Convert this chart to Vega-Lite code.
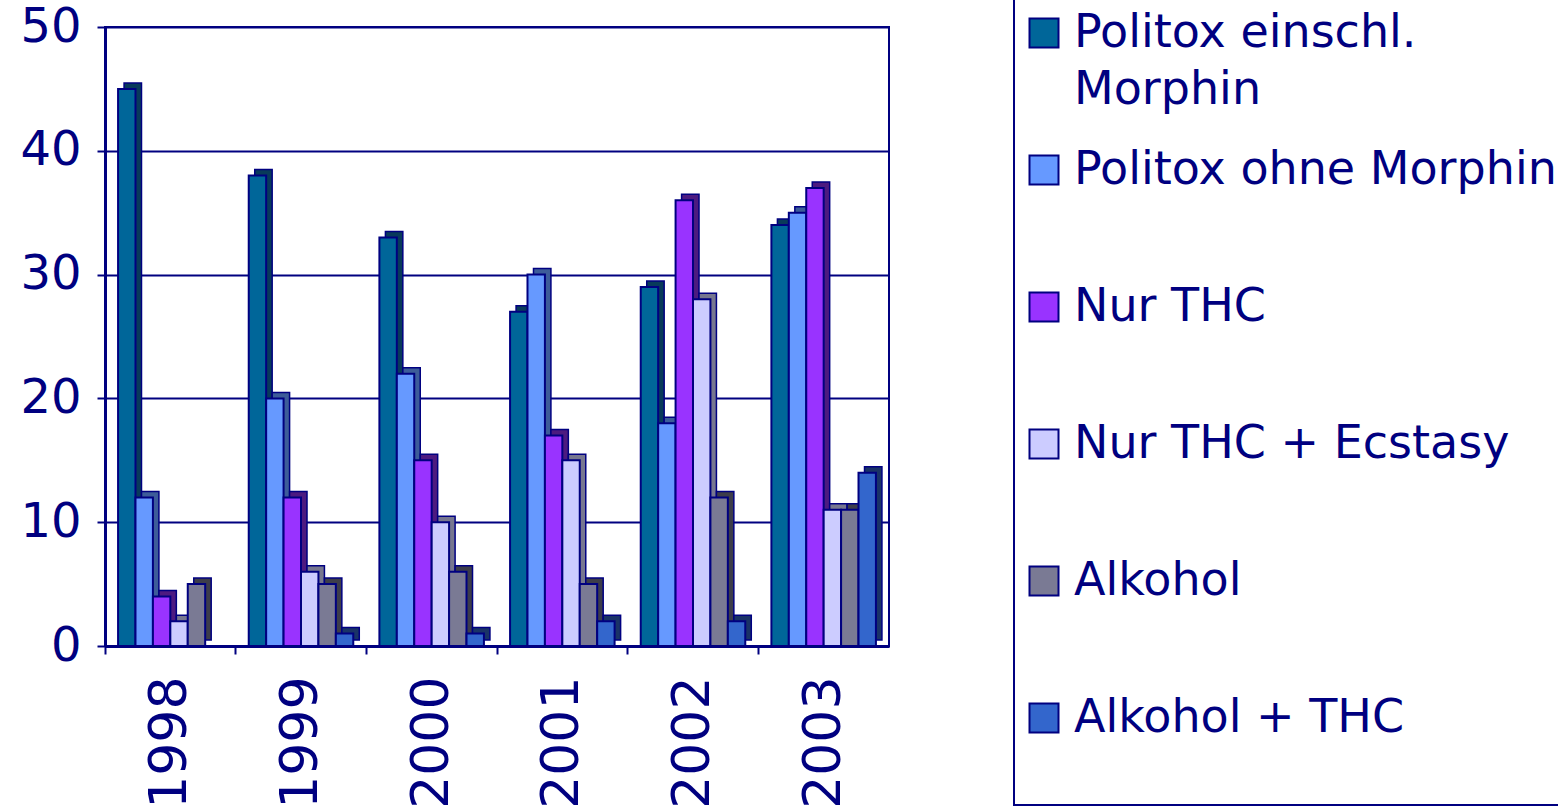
{
  "$schema": "https://vega.github.io/schema/vega-lite/v6.json",
  "width": 784,
  "height": 619,
  "autosize": {"type": "none"},
  "padding": {"left": 105, "top": 27, "right": 669, "bottom": 165},
  "background": "white",
  "config": {"view": {"stroke": "#000080", "strokeWidth": 2}, "font": "DejaVu Sans", "legend": {"strokeWidth": 2}},
  "data": {"values": [
    {"year": "1998", "series": "Politox einschl. Morphin", "value": 45},
    {"year": "1998", "series": "Politox ohne Morphin", "value": 12},
    {"year": "1998", "series": "Nur THC", "value": 4},
    {"year": "1998", "series": "Nur THC + Ecstasy", "value": 2},
    {"year": "1998", "series": "Alkohol", "value": 5},
    {"year": "1999", "series": "Politox einschl. Morphin", "value": 38},
    {"year": "1999", "series": "Politox ohne Morphin", "value": 20},
    {"year": "1999", "series": "Nur THC", "value": 12},
    {"year": "1999", "series": "Nur THC + Ecstasy", "value": 6},
    {"year": "1999", "series": "Alkohol", "value": 5},
    {"year": "1999", "series": "Alkohol + THC", "value": 1},
    {"year": "2000", "series": "Politox einschl. Morphin", "value": 33},
    {"year": "2000", "series": "Politox ohne Morphin", "value": 22},
    {"year": "2000", "series": "Nur THC", "value": 15},
    {"year": "2000", "series": "Nur THC + Ecstasy", "value": 10},
    {"year": "2000", "series": "Alkohol", "value": 6},
    {"year": "2000", "series": "Alkohol + THC", "value": 1},
    {"year": "2001", "series": "Politox einschl. Morphin", "value": 27},
    {"year": "2001", "series": "Politox ohne Morphin", "value": 30},
    {"year": "2001", "series": "Nur THC", "value": 17},
    {"year": "2001", "series": "Nur THC + Ecstasy", "value": 15},
    {"year": "2001", "series": "Alkohol", "value": 5},
    {"year": "2001", "series": "Alkohol + THC", "value": 2},
    {"year": "2002", "series": "Politox einschl. Morphin", "value": 29},
    {"year": "2002", "series": "Politox ohne Morphin", "value": 18},
    {"year": "2002", "series": "Nur THC", "value": 36},
    {"year": "2002", "series": "Nur THC + Ecstasy", "value": 28},
    {"year": "2002", "series": "Alkohol", "value": 12},
    {"year": "2002", "series": "Alkohol + THC", "value": 2},
    {"year": "2003", "series": "Politox einschl. Morphin", "value": 34},
    {"year": "2003", "series": "Politox ohne Morphin", "value": 35},
    {"year": "2003", "series": "Nur THC", "value": 37},
    {"year": "2003", "series": "Nur THC + Ecstasy", "value": 11},
    {"year": "2003", "series": "Alkohol", "value": 11},
    {"year": "2003", "series": "Alkohol + THC", "value": 14}
  ]},
  "encoding": {
    "x": {
      "field": "year", "type": "nominal",
      "scale": {"paddingInner": 0, "paddingOuter": 0},
      "axis": {
        "title": null, "bandPosition": 0, "labelAngle": -90,
        "labelFont": "DejaVu Sans", "labelFontSize": 52, "labelColor": "#000080", "labelPadding": 22,
        "domainColor": "#000080", "domainWidth": 3, "tickColor": "#000080", "tickWidth": 2, "tickSize": 8,
        "grid": false
      }
    },
    "y": {
      "field": "value", "type": "quantitative",
      "scale": {"domain": [0, 50], "nice": false},
      "axis": {
        "title": null, "values": [0, 10, 20, 30, 40, 50], "grid": true, "gridColor": "#000080", "gridWidth": 2, "gridOpacity": 1,
        "domainColor": "#000080", "domainWidth": 3, "tickColor": "#000080", "tickWidth": 2, "tickSize": 8,
        "labelFont": "DejaVu Sans", "labelFontSize": 48, "labelColor": "#000080", "labelPadding": 16
      }
    }
  },
  "layer": [
    {
      "mark": {"type": "bar", "yOffset": -6, "stroke": "#000080", "strokeWidth": 1.5},
      "encoding": {
        "xOffset": {
          "field": "series", "type": "nominal",
          "sort": ["Politox einschl. Morphin", "Politox ohne Morphin", "Nur THC", "Nur THC + Ecstasy", "Alkohol", "Alkohol + THC"],
          "scale": {"paddingInner": 0, "paddingOuter": 0.75, "align": 0.73}
        },
        "color": {
          "field": "series", "type": "nominal",
          "scale": {
            "domain": ["Politox einschl. Morphin", "Politox ohne Morphin", "Nur THC", "Nur THC + Ecstasy", "Alkohol", "Alkohol + THC"],
            "range": ["#083a5a", "#3d5c99", "#4d1a80", "#77778f", "#3d3d4a", "#1a3366"]
          },
          "legend": null
        }
      }
    },
    {
      "mark": {"type": "bar", "stroke": "#000080", "strokeWidth": 2},
      "encoding": {
        "xOffset": {
          "field": "series", "type": "nominal",
          "sort": ["Politox einschl. Morphin", "Politox ohne Morphin", "Nur THC", "Nur THC + Ecstasy", "Alkohol", "Alkohol + THC"],
          "scale": {"paddingInner": 0, "paddingOuter": 0.75, "align": 0.5}
        },
        "color": {
          "field": "series", "type": "nominal",
          "scale": {
            "domain": ["Politox einschl. Morphin", "Politox ohne Morphin", "Nur THC", "Nur THC + Ecstasy", "Alkohol", "Alkohol + THC"],
            "range": ["#006699", "#6699ff", "#9933ff", "#ccccff", "#7a7a94", "#3366cc"]
          },
          "legend": {
            "orient": "none", "legendX": 909, "legendY": -44,
            "title": " ", "titleFontSize": 10, "titlePadding": 10,
            "symbolType": "square", "symbolSize": 841,
            "symbolStrokeColor": "#000080", "symbolStrokeWidth": 2, "symbolOpacity": 1,
            "labelFont": "DejaVu Sans", "labelFontSize": 46, "labelColor": "#000080",
            "labelLimit": 1000, "labelOffset": 7, "labelBaseline": "middle",
            "labelExpr": "datum.label == 'Politox einschl. Morphin' ? ['Politox einschl.', 'Morphin'] : [datum.label, ' ']",
            "rowPadding": 34, "padding": 7,
            "strokeColor": "#000080",
            "encoding": {"labels": {"lineHeight": {"value": 57}}}
          }
        }
      }
    }
  ],
  "resolve": {"scale": {"color": "independent", "xOffset": "independent"}}
}
